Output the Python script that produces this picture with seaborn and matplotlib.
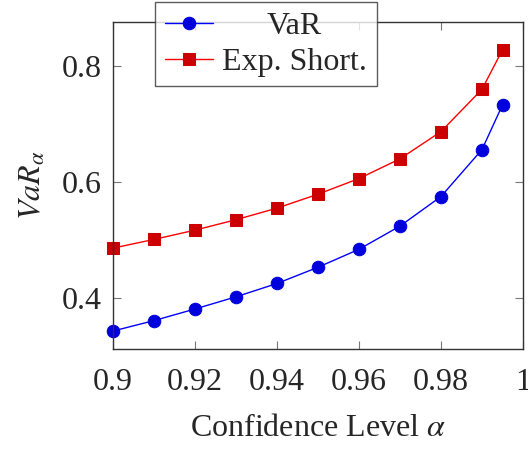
import numpy as np
import pandas as pd
import matplotlib
matplotlib.use("Agg")
import matplotlib.pyplot as plt
import seaborn as sns

# confidence levels and risk measures
conf_level = [0.90, 0.91, 0.92, 0.93, 0.94, 0.95, 0.96, 0.97, 0.98, 0.99, 0.995]
var_vals = [0.343, 0.361, 0.381, 0.402, 0.425, 0.453, 0.484, 0.524, 0.575, 0.656, 0.733]
es_vals = [0.486, 0.501, 0.517, 0.535, 0.555, 0.579, 0.606, 0.640, 0.687, 0.760, 0.828]
x_ticks = [0.9, 0.92, 0.94, 0.96, 0.98, 1.0]
x_ticklabels = ["0.9", "0.92", "0.94", "0.96", "0.98", "1"]
y_ticks = [0.4, 0.6, 0.8]

df = pd.DataFrame({
    "alpha": conf_level * 2,
    "value": var_vals + es_vals,
    "measure": ["VaR"] * len(var_vals) + ["Exp. Short."] * len(es_vals),
})

sns.set_theme(style="ticks")
plt.rcParams["font.family"] = ["Liberation Serif", "DejaVu Serif"]
plt.rcParams["mathtext.fontset"] = "stix"

FS = 23

fig = plt.figure(figsize=(5.28, 4.49), dpi=100)
ax = fig.add_axes([113 / 528, 1 - 349 / 449, (523 - 113) / 528, (349 - 22) / 449])

sns.lineplot(
    data=df, x="alpha", y="value", hue="measure", style="measure",
    palette={"VaR": "#0000ff", "Exp. Short.": "#ff0000"},
    markers={"VaR": "o", "Exp. Short.": "s"}, dashes=False,
    linewidth=1.0, markersize=9, ax=ax, legend=False,
)
# marker faces a bit darker, like pgfplots' default mark fill
for line, face in zip(ax.lines, ["#0000dd", "#cc0000"]):
    line.set_markerfacecolor(face)
    line.set_markeredgecolor(face)
    line.set_clip_on(False)

ax.set_xlim(0.9, 1.0)
ax.set_ylim(0.312, 0.876)
ax.set_xticks(x_ticks)
ax.set_xticklabels(x_ticklabels)
ax.set_yticks(y_ticks)
ax.set_yticklabels(["0.4", "0.6", "0.8"])
ax.tick_params(direction="in", length=6, width=0.8, color="#777777",
               labelsize=FS, top=True, right=True)
ax.tick_params(axis="x", pad=14)
ax.tick_params(axis="y", pad=8)
for s in ax.spines.values():
    s.set_linewidth(1.0)
    s.set_color("#333333")
    s.set_visible(True)

ax.set_xlabel(r"Confidence Level $\alpha$", fontsize=FS, labelpad=12)
ax.set_ylabel(r"$VaR_\alpha$", fontsize=FS, labelpad=10)

handles = ax.lines[:2]
leg = fig.legend(handles, ["VaR", "Exp. Short."], loc="upper left",
                 bbox_to_anchor=(155 / 528, 1 - 2 / 449), fontsize=FS,
                 frameon=True, fancybox=False, edgecolor="#333333",
                 handlelength=1.5, handletextpad=0.3, borderpad=0.3,
                 labelspacing=0.2, borderaxespad=0)
leg.get_frame().set_linewidth(1.0)
fig.canvas.draw()
# pgfplots centers the legend entries in the box
t0, t1 = leg.get_texts()
t0.set_ha("center")
t0.set_position((t1.get_window_extent().width / 2 - t0.get_window_extent().width / 2, 0))

fig.savefig("out.png", dpi=100)
